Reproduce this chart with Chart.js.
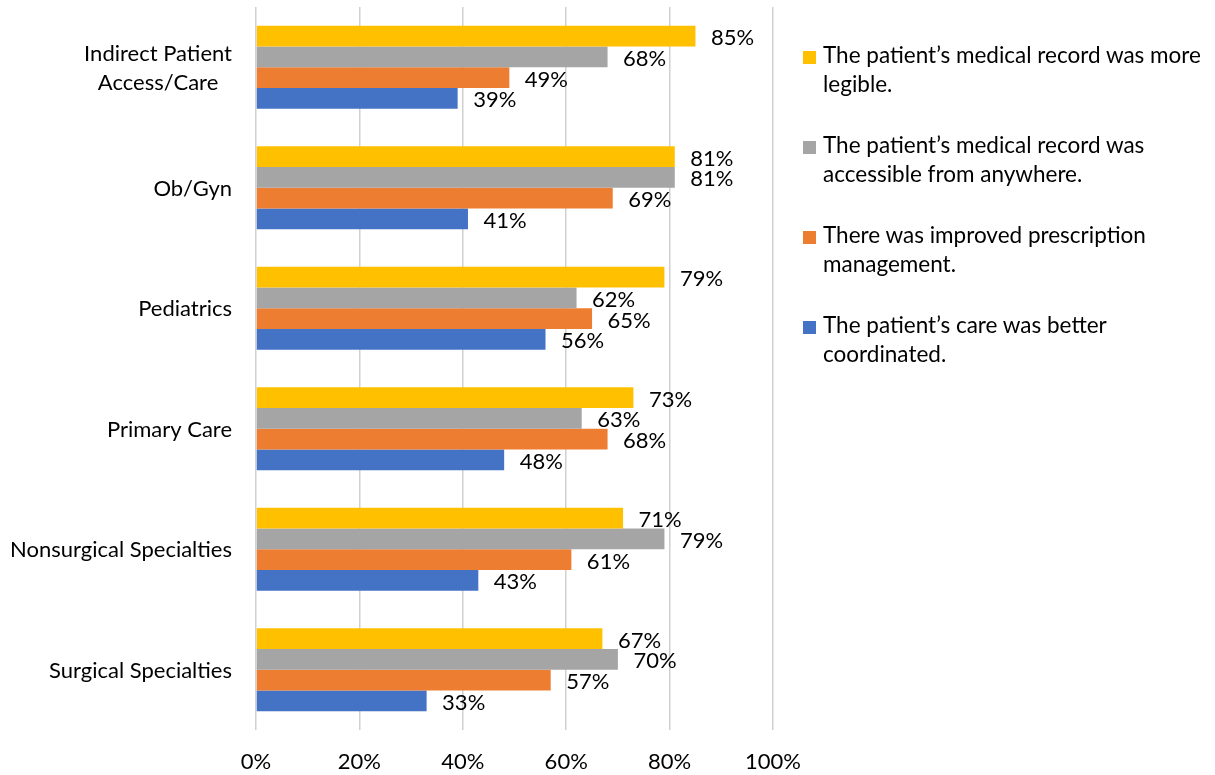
<!DOCTYPE html>
<html>
<head>
<meta charset="utf-8">
<script src="https://cdn.jsdelivr.net/npm/chart.js@4.4.1/dist/chart.umd.min.js"></script>
<style>
  body { margin: 0; background: #fff; }
  #wrap { position: relative; width: 1215px; height: 775px; }
  #legend { position: absolute; left: 803px; top: 40px; font-family: Lato, sans-serif; font-size: 22.5px; line-height: 29.4px; color: #000; }
  .item { position: absolute; left: 0; white-space: nowrap; }
  .box { position: absolute; left: 0; top: 10.7px; width: 13px; height: 13px; }
  .txt { position: absolute; left: 20px; top: 0; }
</style>
</head>
<body>
<div id="wrap">
  <canvas id="chart" width="1215" height="775"></canvas>
  <div id="legend"></div>
</div>
<script>
const categories = [
    ["Indirect Patient", "Access/Care"],
    "Ob/Gyn",
    "Pediatrics",
    "Primary Care",
    "Nonsurgical Specialties",
    "Surgical Specialties",
];
const seriesNames = [
    ["The patient’s medical record was more", "legible."],
    ["The patient’s medical record was", "accessible from anywhere."],
    ["There was improved prescription", "management."],
    ["The patient’s care was better", "coordinated."],
];
const moreLegible = [85, 81, 79, 73, 71, 67];
const accessibleAnywhere = [68, 81, 62, 63, 79, 70];
const prescriptionMgmt = [49, 69, 65, 68, 61, 57];
const betterCoordinated = [39, 41, 56, 48, 43, 33];
const tickValues = [0, 20, 40, 60, 80, 100];
const colors = ["#FFC000", "#A5A5A5", "#ED7D31", "#4472C4"];

const FONT = "Lato";
const SIZE = 22;
Chart.defaults.font.family = FONT;
Chart.defaults.font.size = SIZE;
Chart.defaults.color = "#000";

const allSeries = [moreLegible, accessibleAnywhere, prescriptionMgmt, betterCoordinated];

// etiquetas de categoria (centradas entre lineas, alineadas a la derecha)
const categoryLabels = {
    id: "categoryLabels",
    afterDraw(chart) {
        const ctx = chart.ctx;
        const y = chart.scales.y;
        const right = chart.chartArea.left - 24;
        ctx.save();
        ctx.font = SIZE + "px " + FONT;
        ctx.fillStyle = "#000";
        ctx.textAlign = "center";
        ctx.textBaseline = "alphabetic";
        categories.forEach((cat, i) => {
            const lines = Array.isArray(cat) ? cat : [cat];
            const w = Math.max(...lines.map((l) => ctx.measureText(l).width));
            const cx = right - w / 2;
            const cy = y.getPixelForTick(i);
            lines.forEach((l, j) => {
                const ly = cy + (j - (lines.length - 1) / 2) * 29 + SIZE * 0.36;
                ctx.fillText(l, cx, ly);
            });
        });
        ctx.restore();
    },
};

// valores al final de cada barra
const valueLabels = {
    id: "valueLabels",
    afterDatasetsDraw(chart) {
        const ctx = chart.ctx;
        ctx.save();
        ctx.font = SIZE + "px " + FONT;
        ctx.fillStyle = "#000";
        ctx.textAlign = "left";
        ctx.textBaseline = "alphabetic";
        chart.data.datasets.forEach((ds, d) => {
            chart.getDatasetMeta(d).data.forEach((bar, i) => {
                ctx.fillText(ds.data[i] + "%", bar.x + 15.5, bar.y + SIZE * 0.36 + 1);
            });
        });
        ctx.restore();
    },
};

const chart = new Chart(document.getElementById("chart"), {
    type: "bar",
    data: {
        labels: categories,
        datasets: allSeries.map((data, i) => ({
            label: seriesNames[i].join(" "),
            data: data,
            backgroundColor: colors[i],
            borderWidth: 0,
            categoryPercentage: 0.687,
            barPercentage: 1,
        })),
    },
    options: {
        indexAxis: "y",
        responsive: false,
        animation: false,
        layout: { padding: { top: 7, left: 256, right: 442, bottom: 0 } },
        plugins: { legend: { display: false }, tooltip: { enabled: false } },
        scales: {
            y: { display: false },
            x: {
                min: 0,
                max: 100,
                afterBuildTicks: (scale) => {
                    scale.ticks = tickValues.map((v) => ({ value: v }));
                },
                afterFit: (scale) => {
                    scale.height = 45;
                },
                grid: { color: "#D0D0D0", lineWidth: 1.5, drawTicks: false },
                border: { display: false },
                ticks: {
                    padding: 19,
                    color: "#000",
                    callback: (v) => v + "%",
                },
            },
        },
    },
    plugins: [categoryLabels, valueLabels],
});

// leyenda en HTML
const legend = document.getElementById("legend");
seriesNames.forEach((lines, i) => {
    const item = document.createElement("div");
    item.className = "item";
    item.style.top = i * 90 + "px";
    item.innerHTML =
        '<div class="box" style="background:' + colors[i] + '"></div>' +
        '<div class="txt">' + lines.join("<br>") + "</div>";
    legend.appendChild(item);
});
</script>
</body>
</html>
